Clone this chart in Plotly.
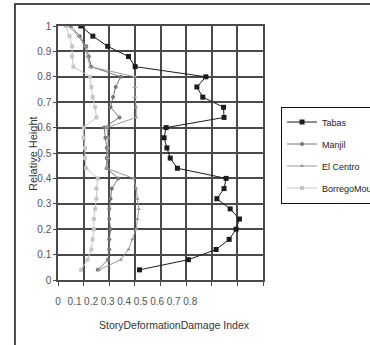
import plotly.graph_objects as go

# Relative height of each of the 25 storeys (top storey = 1.0)
heights = [0.04, 0.08, 0.12, 0.16, 0.20, 0.24, 0.28, 0.32, 0.36, 0.40,
           0.44, 0.48, 0.52, 0.56, 0.60, 0.64, 0.68, 0.72, 0.76, 0.80,
           0.84, 0.88, 0.92, 0.96, 1.00]

# Story deformation damage index per storey, bottom to top
tabas = [0.318, 0.509, 0.617, 0.668, 0.695, 0.708, 0.672, 0.620, 0.648, 0.656,
         0.466, 0.438, 0.425, 0.414, 0.422, 0.648, 0.646, 0.565, 0.542, 0.577,
         0.301, 0.275, 0.194, 0.136, 0.089]
manjil = [0.155, 0.195, 0.200, 0.200, 0.205, 0.200, 0.200, 0.205, 0.210, 0.235,
          0.190, 0.190, 0.190, 0.185, 0.180, 0.240, 0.205, 0.215, 0.225, 0.245,
          0.130, 0.120, 0.110, 0.085, 0.050]
el_centro = [0.160, 0.245, 0.275, 0.290, 0.305, 0.310, 0.315, 0.310, 0.305, 0.295,
             0.190, 0.195, 0.195, 0.195, 0.190, 0.305, 0.305, 0.300, 0.300, 0.300,
             0.125, 0.115, 0.105, 0.080, 0.040]
borrego = [0.090, 0.115, 0.130, 0.135, 0.140, 0.140, 0.145, 0.150, 0.150, 0.155,
           0.110, 0.105, 0.105, 0.100, 0.100, 0.150, 0.145, 0.135, 0.130, 0.125,
           0.060, 0.055, 0.055, 0.045, 0.030]

x_ticks = [0, 0.1, 0.2, 0.3, 0.4, 0.5, 0.6, 0.7, 0.8]
x_tick_text = ["0", "0.1", "0.2", "0.3", "0.4", "0.5", "0.6", "0.7", "0.8"]
y_ticks = [0, 0.1, 0.2, 0.3, 0.4, 0.5, 0.6, 0.7, 0.8, 0.9, 1]

NARROW = "Liberation Sans Narrow, Arial Narrow, Liberation Sans, Arial, sans-serif"
SANS = "Liberation Sans, Arial, sans-serif"
GRID = "#4a4a4a"

series = [
    ("Tabas", tabas, "#1c1c1c", "square", 5),
    ("Manjil", manjil, "#777777", "circle", 4),
    ("El Centro", el_centro, "#9a9a9a", "triangle-up", 4),
    ("BorregoMountain", borrego, "#c6c6c6", "square", 4),
]

fig = go.Figure()
for name, vals, color, symbol, msize in series:
    fig.add_trace(go.Scatter(
        x=vals, y=heights, mode="lines+markers", name=name,
        legendgroup=name,
        line=dict(color=color, width=1),
        marker=dict(symbol=symbol, size=msize, color=color),
    ))

# Carrier for the (tightly spaced) tick-label scale along the bottom
fig.add_trace(go.Scatter(
    x=x_ticks, y=[0] * len(x_ticks), xaxis="x2", mode="markers",
    marker=dict(opacity=0), showlegend=False, hoverinfo="skip",
))

fig.update_layout(
    width=370, height=345, autosize=False,
    margin=dict(l=58, r=107, t=26, b=65, autoexpand=False),
    paper_bgcolor="white", plot_bgcolor="white",
    showlegend=True,
    legend=dict(
        x=1.088, y=0.683, xanchor="left", yanchor="top",
        bordercolor="#111111", borderwidth=1, bgcolor="white",
        font=dict(family=NARROW, size=9, color="#222222"),
        tracegroupgap=3, itemwidth=30,
    ),
    xaxis=dict(
        range=[0, 0.8], tickvals=x_ticks, showticklabels=False,
        showgrid=True, gridcolor=GRID, gridwidth=1.5,
        zeroline=False, showline=True, mirror=True,
        linecolor=GRID, linewidth=1.5,
        ticks="outside", ticklen=4, tickcolor=GRID,
    ),
    xaxis2=dict(
        overlaying="x", anchor="y", side="bottom",
        range=[0, 1.24], tickvals=x_ticks, ticktext=x_tick_text,
        showgrid=False, zeroline=False, showline=False, ticks="",
        ticklabelstandoff=14,
        tickfont=dict(family=SANS, size=10, color="#555555"),
    ),
    yaxis=dict(
        range=[0, 1], tickvals=y_ticks,
        showgrid=True, gridcolor=GRID, gridwidth=1.5,
        zeroline=False, showline=True, mirror=True,
        linecolor=GRID, linewidth=1.5,
        ticks="outside", ticklen=3, tickcolor=GRID,
        tickfont=dict(family=SANS, size=10, color="#555555"),
    ),
    shapes=[dict(
        type="rect", xref="paper", yref="paper",
        x0=-0.21, x1=1.6, y0=-0.4, y1=1.087,
        line=dict(color="#111111", width=1.5), fillcolor="rgba(0,0,0,0)",
        layer="below",
    )],
    annotations=[
        dict(text="StoryDeformationDamage Index", xref="paper", yref="paper",
             x=0.566, y=-0.178, xanchor="center", yanchor="middle",
             showarrow=False,
             font=dict(family=NARROW, size=10.5, color="#333333")),
        dict(text="Relative Height", textangle=-90, xref="paper", yref="paper",
             x=-0.122, y=0.5, xanchor="center", yanchor="middle",
             showarrow=False,
             font=dict(family=NARROW, size=11, color="#333333")),
        dict(text="›", xref="paper", yref="paper", x=-0.095, y=0.478,
             xanchor="center", yanchor="middle", showarrow=False,
             font=dict(family=SANS, size=12, color="#2030e0")),
    ],
)

fig.write_html("out.html")
